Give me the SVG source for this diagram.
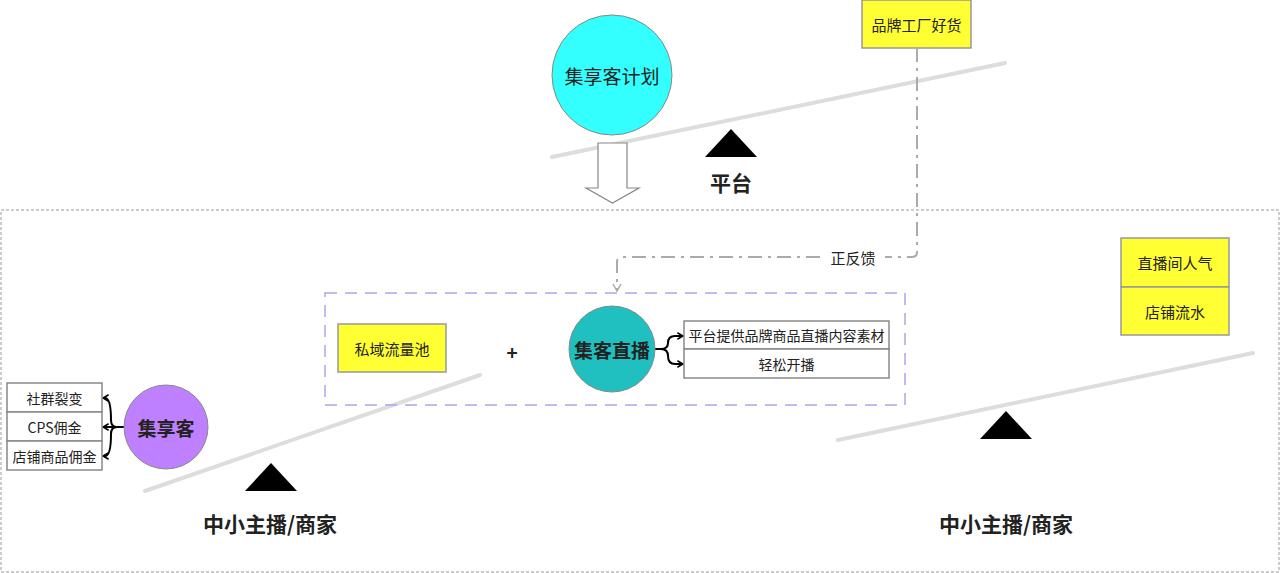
<svg xmlns="http://www.w3.org/2000/svg" width="1280" height="573" viewBox="0 0 1280 573">
<style>
text{font-family:"Noto Sans CJK SC","Noto Sans",sans-serif;fill:#222;text-anchor:middle;dominant-baseline:central}
.t14{font-size:14px}
.t15{font-size:15px}
.big{font-size:19px}
.huge{font-size:21px}
.bold{font-weight:bold}
.ybox{fill:#ffff33;stroke:#999;stroke-width:1.5}
.wbox{fill:#fff;stroke:#888;stroke-width:1.5}
.beam{stroke:#ddd;stroke-width:4;stroke-linecap:round;fill:none}
.fulcrum{fill:#000}
.brace{fill:none;stroke:#000;stroke-width:2;marker-end:url(#open)}
</style>
<defs>
<marker id="open" viewBox="0 0 10 10" refX="9" refY="5" markerWidth="8" markerHeight="8" markerUnits="userSpaceOnUse" orient="auto">
<path d="M2,1 L9,5 L2,9" fill="none" stroke="#000" stroke-width="2"/>
</marker>
<marker id="grayopen" viewBox="0 0 10 10" refX="9" refY="5" markerWidth="10" markerHeight="10" markerUnits="userSpaceOnUse" orient="auto">
<path d="M2,1 L9,5 L2,9" fill="none" stroke="#aaa" stroke-width="1.5"/>
</marker>
</defs>
<rect width="1280" height="573" fill="#fff"/>
<rect id="lower-frame" x="1" y="210" width="1278" height="362" fill="none" stroke="#999" stroke-width="1" stroke-dasharray="3,2"/>

<g id="beams">
<line class="beam" x1="552" y1="157" x2="1005" y2="63"/>
<line class="beam" x1="145" y1="491" x2="480" y2="375"/>
<line class="beam" x1="838" y1="440" x2="1253" y2="353"/>
</g>

<g id="platform">
<polygon class="fulcrum" points="731,129 705,157 757,157"/>
<text class="huge bold" x="731" y="182">平台</text>
</g>

<g id="plan">
<circle cx="612" cy="75" r="60" fill="#33ffff" stroke="#888" stroke-width="1"/>
<text class="big" x="612" y="75">集享客计划</text>
</g>

<g id="brand">
<rect class="ybox" x="862" y="0" width="109" height="48"/>
<text class="t15" x="916.5" y="24">品牌工厂好货</text>
</g>

<g id="down-arrow">
<polygon points="598,143 627,143 627,188 639,188 612.5,203 586,188 598,188" fill="#fff" stroke="#888" stroke-width="1.2"/>
</g>

<g id="connectors">
<path d="M917,48 V252 Q917,257 912,257 H885" fill="none" stroke="#aaa" stroke-width="2" stroke-dasharray="14,6,3,6"/>
<path d="M820,257 H622 Q617,257 617,262 V291" fill="none" stroke="#aaa" stroke-width="2" stroke-dasharray="14,6,3,6" marker-end="url(#grayopen)"/>
<text class="t15" x="853" y="257">正反馈</text>
<path class="brace" d="M655,349 H661 Q668,349 668,343 Q668,336 675,336 H683"/>
<path class="brace" d="M655,349 H661 Q668,349 668,356 Q668,364 675,364 H683"/>
<path class="brace" d="M124,427 H117 Q111,427 111,420 Q111,398 105,398 H103"/>
<path class="brace" d="M124,427 H103"/>
<path class="brace" d="M124,427 H117 Q111,427 111,434 Q111,456 105,456 H103"/>
</g>

<g id="live-group">
<rect x="325" y="293" width="580" height="112" fill="none" stroke="#a8a8f0" stroke-width="1.5" stroke-dasharray="12,8"/>
</g>

<g id="private-pool">
<rect class="ybox" x="338" y="324" width="108" height="48"/>
<text class="t15" x="392" y="348">私域流量池</text>
</g>

<g id="plus">
<text class="big bold" x="512" y="351">+</text>
</g>

<g id="live">
<circle cx="612" cy="349" r="43" fill="#20c0c0" stroke="#888" stroke-width="1"/>
<text class="big bold" x="612" y="349">集客直播</text>
</g>

<g id="live-items">
<rect class="wbox" x="684" y="321" width="205" height="28"/>
<text class="t14" x="786.5" y="335">平台提供品牌商品直播内容素材</text>
<rect class="wbox" x="684" y="349" width="205" height="29"/>
<text class="t14" x="786.5" y="364">轻松开播</text>
</g>

<g id="jixiangke">
<circle cx="166" cy="427" r="42" fill="#bf80ff" stroke="#888" stroke-width="1"/>
<text class="big bold" x="166" y="427">集享客</text>
</g>

<g id="jxk-items">
<rect class="wbox" x="7" y="383" width="95" height="29"/>
<text class="t14" x="54.5" y="397.5">社群裂变</text>
<rect class="wbox" x="7" y="412" width="95" height="29"/>
<text class="t14" x="54.5" y="426.5">CPS佣金</text>
<rect class="wbox" x="7" y="441" width="95" height="29"/>
<text class="t14" x="54.5" y="455.5">店铺商品佣金</text>
</g>

<g id="left-seller">
<polygon class="fulcrum" points="271,463 245,491 297,491"/>
<text class="huge bold" x="270" y="523">中小主播/商家</text>
</g>

<g id="right-seller">
<polygon class="fulcrum" points="1006,411 980,439 1032,439"/>
<text class="huge bold" x="1006" y="523">中小主播/商家</text>
</g>

<g id="metrics">
<rect class="ybox" x="1121" y="238" width="108" height="49"/>
<text class="t15" x="1175" y="262.5">直播间人气</text>
<rect class="ybox" x="1121" y="287" width="108" height="48"/>
<text class="t15" x="1175" y="311">店铺流水</text>
</g>
</svg>
